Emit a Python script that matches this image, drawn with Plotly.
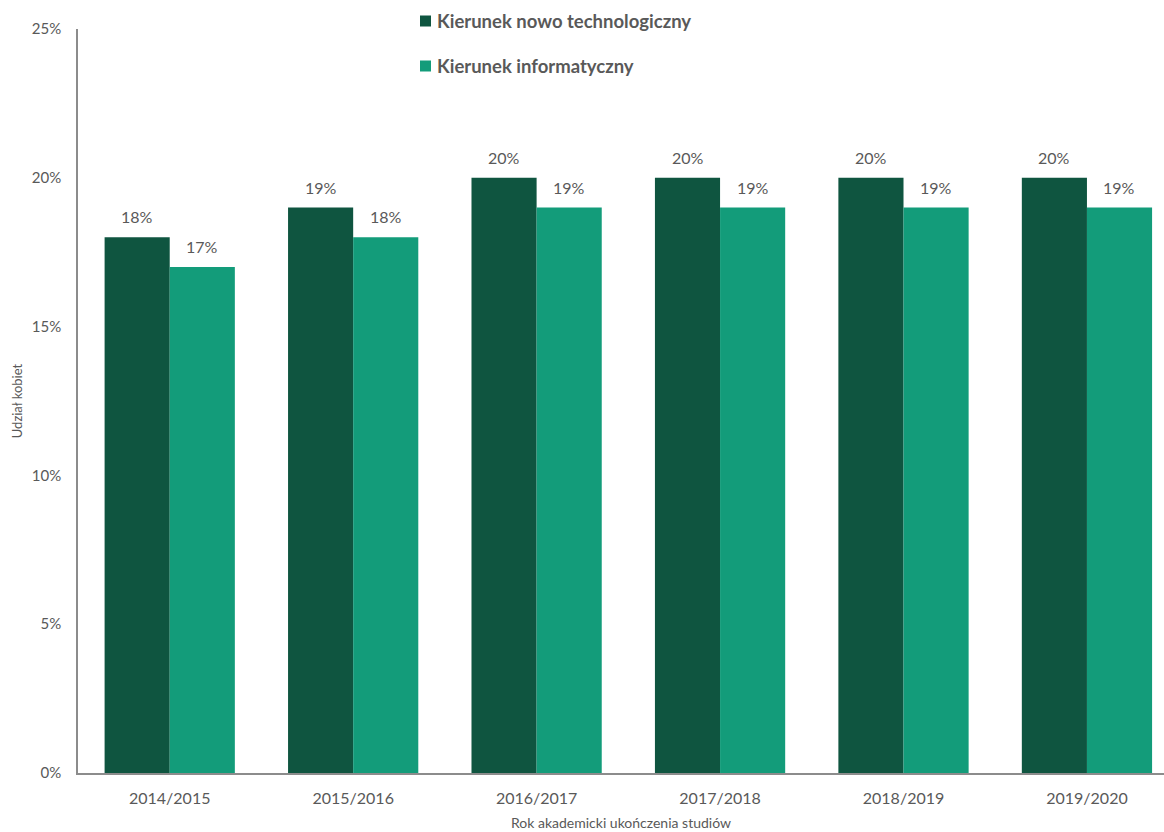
import plotly.graph_objects as go

years = ["2014/2015", "2015/2016", "2016/2017", "2017/2018", "2018/2019", "2019/2020"]
nowo_tech = [18, 19, 20, 20, 20, 20]
informatyczny = [17, 18, 19, 19, 19, 19]
series_names = ["Kierunek nowo technologiczny", "Kierunek informatyczny"]
series_colors = ["#0f5540", "#139c7a"]
y_ticks = [0, 5, 10, 15, 20, 25]
y_tick_labels = ["0%", "5%", "10%", "15%", "20%", "25%"]

FONT = "Lato, 'Open Sans', sans-serif"
GREY = "#595959"

# plot area geometry (pixels)
W, H = 1164, 832
ML, MR, MT, MB = 78, 0, 29, 59
PW, PH = W - ML - MR, H - MT - MB

fig = go.Figure()
for name, vals, col in zip(series_names, [nowo_tech, informatyczny], series_colors):
    fig.add_trace(go.Bar(
        x=years, y=vals, name=name,
        marker=dict(color=col, line=dict(width=0)),
        showlegend=False,
    ))

# value labels above each bar, offset to the bar's side of the group
annotations = []
for vals, shift in [(nowo_tech, -32.5), (informatyczny, 32.5)]:
    for yr, v in zip(years, vals):
        annotations.append(dict(
            x=yr, y=v, xref="x", yref="y", text=f"{v}%",
            showarrow=False, xshift=shift, yshift=9, yanchor="bottom",
            font=dict(size=16, color=GREY, family=FONT),
        ))

# legend: colour squares and bold labels stacked near the top
shapes = []
for i, (name, col) in enumerate(zip(series_names, series_colors)):
    py = 21 + 45 * i
    yp = (H - MB - py) / PH
    shapes.append(dict(
        type="rect", xref="paper", yref="paper",
        xsizemode="pixel", ysizemode="pixel",
        xanchor=(420 - ML) / PW, yanchor=yp,
        x0=0, x1=11, y0=-5.5, y1=5.5,
        fillcolor=col, line=dict(width=0),
    ))
    annotations.append(dict(
        x=(435 - ML) / PW, y=yp, xref="paper", yref="paper",
        text=f"<b>{name}</b>", showarrow=False,
        xanchor="left", yanchor="middle",
        font=dict(size=18.5, color=GREY, family=FONT),
    ))

fig.update_layout(
    width=W, height=H,
    margin=dict(l=ML, r=MR, t=MT, b=MB),
    paper_bgcolor="white", plot_bgcolor="white",
    barmode="group", bargap=0.29, bargroupgap=0,
    font=dict(family=FONT, color=GREY),
    showlegend=False,
    annotations=annotations,
    shapes=shapes,
    xaxis=dict(
        type="category", range=[-0.5, 5.42],
        showline=True, linecolor="#8c8c8c", linewidth=1.5,
        showgrid=False, ticks="", ticklabelstandoff=10,
        tickfont=dict(size=16, color=GREY, family=FONT),
        title=dict(text="Rok akademicki ukończenia studiów",
                   font=dict(size=14, color=GREY, family=FONT), standoff=12),
    ),
    yaxis=dict(
        range=[0, 25], tickvals=y_ticks, ticktext=y_tick_labels,
        showline=True, linecolor="#8c8c8c", linewidth=1.5,
        showgrid=False, zeroline=False, ticks="", ticklabelstandoff=12,
        tickfont=dict(size=15, color=GREY, family=FONT),
        title=dict(text="Udział kobiet",
                   font=dict(size=13, color=GREY, family=FONT), standoff=6),
    ),
)

fig.write_html("out.html")
